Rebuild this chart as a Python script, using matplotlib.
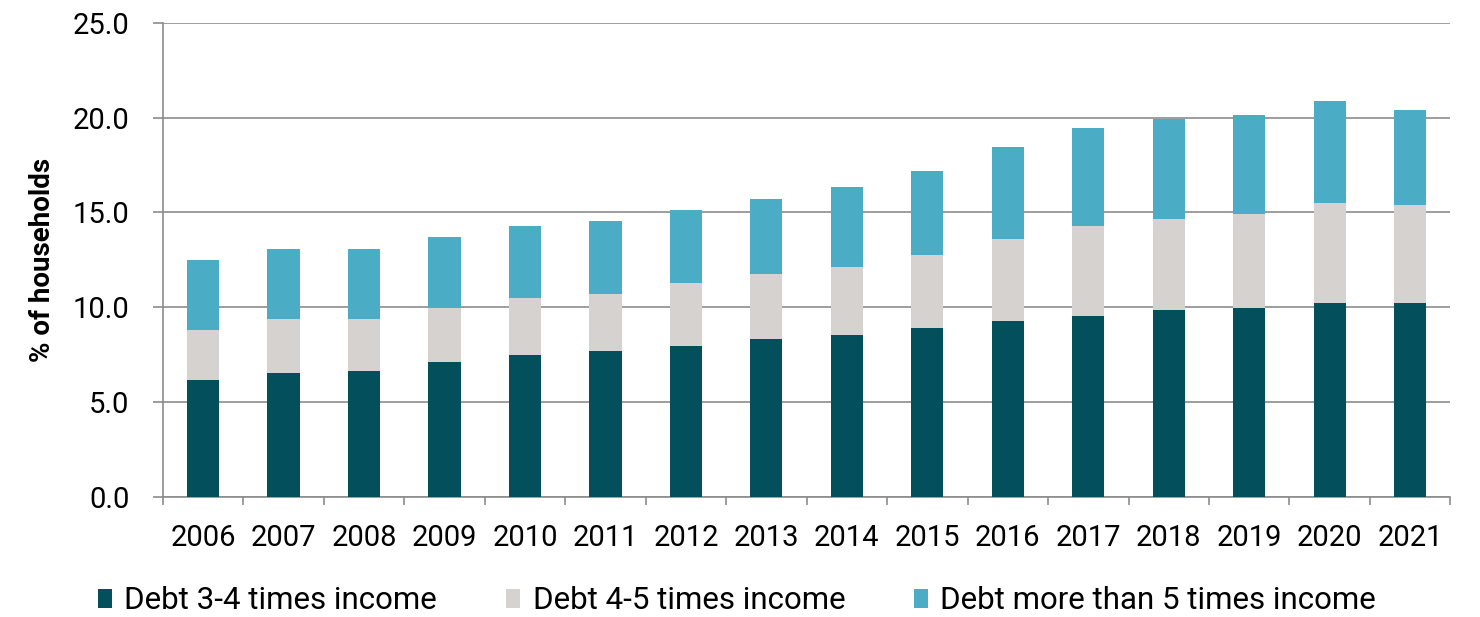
import numpy as np
import matplotlib
matplotlib.use("Agg")
import matplotlib.pyplot as plt
import matplotlib.ticker as ticker

plt.rcParams.update({
    "font.family": ["Roboto", "DejaVu Sans"],
    "font.size": 20,
})

# Data (% of households)
years = [str(y) for y in range(2006, 2022)]
debt_3_4 = [6.14, 6.51, 6.62, 7.09, 7.46, 7.70, 7.93, 8.32, 8.55, 8.89,
            9.26, 9.51, 9.86, 9.97, 10.21, 10.21]
debt_4_5_top = [8.79, 9.39, 9.39, 9.98, 10.46, 10.70, 11.30, 11.77, 12.14, 12.74,
                13.58, 14.30, 14.67, 14.89, 15.49, 15.37]
total = [12.49, 13.09, 13.09, 13.68, 14.28, 14.53, 15.14, 15.72, 16.32, 17.16,
         18.47, 19.44, 19.92, 20.16, 20.88, 20.41]
debt_4_5 = list(np.array(debt_4_5_top) - np.array(debt_3_4))
debt_5_plus = list(np.array(total) - np.array(debt_4_5_top))

labels = ["Debt 3-4 times income", "Debt 4-5 times income",
          "Debt more than 5 times income"]
colors = ["#03505C", "#D5D2CF", "#4BACC6"]
GRID = "#8C8C8C"

fig = plt.figure(figsize=(14.8, 6.17), dpi=100)
ax = fig.add_axes([0.110, 0.195, 0.870, 0.768])

x = np.arange(len(years))
w = 0.40
ax.bar(x, debt_3_4, w, color=colors[0], label=labels[0], zorder=3)
ax.bar(x, debt_4_5, w, bottom=debt_3_4, color=colors[1], label=labels[1], zorder=3)
ax.bar(x, debt_5_plus, w, bottom=debt_4_5_top, color=colors[2], label=labels[2], zorder=3)

ax.set_xlim(-0.5, len(years) - 0.5)
ax.set_ylim(0, 25)
ax.yaxis.set_major_locator(ticker.MultipleLocator(5))
ax.yaxis.set_major_formatter(ticker.FormatStrFormatter("%.1f"))
ax.grid(axis="y", color=GRID, linewidth=1.2, zorder=0)

ax.set_xticks(x, years)
ax.set_xticks(np.arange(-0.5, len(years)), minor=True)
ax.tick_params(axis="x", which="major", length=0, pad=20, labelsize=21)
ax.tick_params(axis="x", which="minor", length=6, width=1.2, color=GRID)
ax.tick_params(axis="y", length=7, width=1.2, color=GRID, pad=17, labelsize=21)

for s in ["top", "right"]:
    ax.spines[s].set_visible(False)
for s in ["left", "bottom"]:
    ax.spines[s].set_color(GRID)
    ax.spines[s].set_linewidth(1.2)

ax.set_ylabel("% of households", fontsize=20, fontweight="bold", labelpad=12)

fig.legend(loc="center", bbox_to_anchor=(0.498, 0.026), ncol=3, frameon=False,
           handlelength=0.45, handleheight=0.55, handletextpad=0.4,
           columnspacing=2.2, fontsize=22.5)

fig.savefig("out.png", dpi=100)
